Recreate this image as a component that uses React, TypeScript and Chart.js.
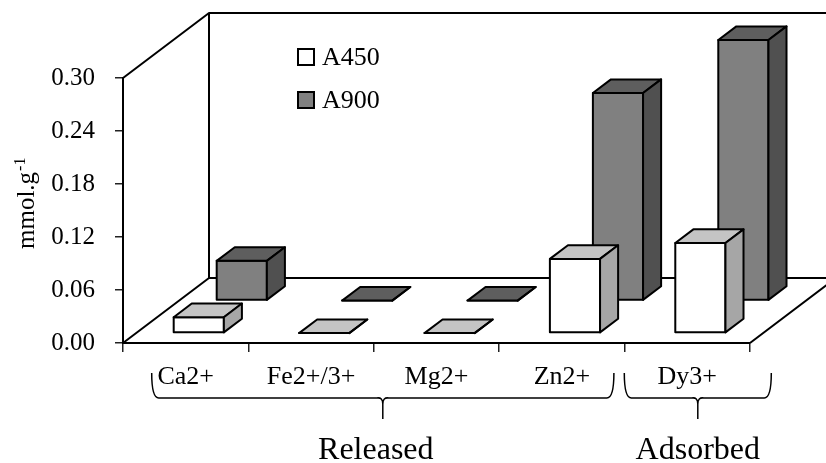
import { useEffect, useRef } from "react";
import { Chart, registerables } from "chart.js";

Chart.register(...registerables);

// ---- data ----
const categories = ["Ca2+", "Fe2+/3+", "Mg2+", "Zn2+", "Dy3+"];
const seriesLabels = ["A450", "A900"];
const a450 = [0.018, 0, 0, 0.084, 0.102];
const a900 = [0.045, 0, 0, 0.235, 0.295];
const yTicks = [0, 0.06, 0.12, 0.18, 0.24, 0.3];
const groupLabels = ["Released", "Adsorbed"];
const groupFirst = [0, 4];
const groupLast = [3, 4];
const yTitleMain = "mmol.g";
const yTitleSup = "-1";

// ---- style ----
const FONT = "'Liberation Serif', 'Times New Roman', serif";
const DEPTH = { x: 86, y: 65 }; // oblique depth of the floor
const ROW_POS = [0.152, 0.652]; // depth position of each series row
const BAR_DEPTH = 0.21; // depth of each bar as a fraction of the floor depth
const FACES = [
  { front: "#ffffff", top: "#c4c4c4", side: "#a6a6a6" },
  { front: "#808080", top: "#5e5e5e", side: "#505050" },
];

const floorPlugin = {
  id: "floor3d",
  beforeDatasetsDraw(chart: any) {
    const { ctx, chartArea: a } = chart;
    const W = chart.width;
    ctx.save();
    ctx.strokeStyle = "#000";
    ctx.lineWidth = 2;
    ctx.lineJoin = "round";
    ctx.beginPath();
    // left wall top edge
    ctx.moveTo(a.left, a.top);
    ctx.lineTo(a.left + DEPTH.x, a.top - DEPTH.y);
    // back wall top
    ctx.lineTo(W + 20, a.top - DEPTH.y);
    // back wall left edge
    ctx.moveTo(a.left + DEPTH.x, a.top - DEPTH.y);
    ctx.lineTo(a.left + DEPTH.x, a.bottom - DEPTH.y);
    // floor
    ctx.moveTo(a.left, a.bottom);
    ctx.lineTo(a.left + DEPTH.x, a.bottom - DEPTH.y);
    ctx.lineTo(a.right + DEPTH.x, a.bottom - DEPTH.y);
    ctx.lineTo(a.right, a.bottom);
    ctx.stroke();
    ctx.restore();
  },
};

function poly(ctx: CanvasRenderingContext2D, pts: number[][], fill: string) {
  ctx.beginPath();
  ctx.moveTo(pts[0][0], pts[0][1]);
  for (let i = 1; i < pts.length; i++) ctx.lineTo(pts[i][0], pts[i][1]);
  ctx.closePath();
  ctx.fillStyle = fill;
  ctx.fill();
  ctx.stroke();
}

const bars3dPlugin = {
  id: "bars3d",
  afterDatasetsDraw(chart: any) {
    const { ctx } = chart;
    ctx.save();
    ctx.strokeStyle = "#000";
    ctx.lineWidth = 2;
    ctx.lineJoin = "round";
    const dx = DEPTH.x * BAR_DEPTH;
    const dy = DEPTH.y * BAR_DEPTH;
    // back row first so the front row covers it
    for (let d = chart.data.datasets.length - 1; d >= 0; d--) {
      const meta = chart.getDatasetMeta(d);
      const ox = DEPTH.x * ROW_POS[d];
      const oy = DEPTH.y * ROW_POS[d];
      const face = FACES[d];
      meta.data.forEach((el: any) => {
        const { x, y, base, width } = el.getProps(["x", "y", "base", "width"], true);
        const l = x - width / 2 + ox;
        const r = l + width;
        const t = y - oy;
        const b = base - oy;
        poly(ctx, [[l, t], [r, t], [r, b], [l, b]], face.front);
        poly(ctx, [[l, t], [l + dx, t - dy], [r + dx, t - dy], [r, t]], face.top);
        poly(ctx, [[r, t], [r + dx, t - dy], [r + dx, b - dy], [r, b]], face.side);
      });
    }
    ctx.restore();
  },
};

function brace(ctx: CanvasRenderingContext2D, L: number, R: number, top: number, mid: number, tip: number) {
  const C = (L + R) / 2;
  ctx.beginPath();
  ctx.moveTo(L, top);
  ctx.quadraticCurveTo(L, mid, L + 7, mid);
  ctx.lineTo(C - 6, mid);
  ctx.quadraticCurveTo(C, mid - 1, C, mid + 6);
  ctx.lineTo(C, tip);
  ctx.moveTo(C, mid + 6);
  ctx.quadraticCurveTo(C, mid - 1, C + 6, mid);
  ctx.lineTo(R - 7, mid);
  ctx.quadraticCurveTo(R, mid, R, top);
  ctx.stroke();
}

const annotationsPlugin = {
  id: "annotations",
  afterDraw(chart: any) {
    const { ctx, scales } = chart;
    const xs = scales.x;
    ctx.save();
    ctx.fillStyle = "#000";
    ctx.strokeStyle = "#000";

    // legend
    chart.data.datasets.forEach((ds: any, i: number) => {
      const bx = 298;
      const by = 49 + i * 43;
      ctx.lineWidth = 2;
      ctx.fillStyle = FACES[i].front;
      ctx.fillRect(bx, by, 16, 16);
      ctx.strokeRect(bx, by, 16, 16);
      ctx.fillStyle = "#000";
      ctx.font = `26px ${FONT}`;
      ctx.textAlign = "left";
      ctx.textBaseline = "middle";
      ctx.fillText(ds.label, bx + 24, by + 9);
    });

    // y-axis title with superscript
    ctx.save();
    ctx.translate(34, 249);
    ctx.rotate(-Math.PI / 2);
    ctx.textAlign = "left";
    ctx.textBaseline = "alphabetic";
    ctx.font = `25px ${FONT}`;
    ctx.fillText(yTitleMain, 0, 0);
    const w = ctx.measureText(yTitleMain).width;
    ctx.font = `16px ${FONT}`;
    ctx.fillText(yTitleSup, w + 1, -9);
    ctx.restore();

    // group braces
    ctx.lineWidth = 1.5;
    const bounds = [
      [xs.getPixelForValue(groupFirst[0]) - 34, xs.getPixelForValue(groupLast[0]) + 52],
      [xs.getPixelForValue(groupFirst[1]) - 63, xs.getPixelForValue(groupLast[1]) + 84],
    ];
    groupLabels.forEach((label, i) => {
      const [L, R] = bounds[i];
      brace(ctx, L, R, 373, 398, 419);
      ctx.font = `32px ${FONT}`;
      ctx.textAlign = "center";
      ctx.textBaseline = "alphabetic";
      ctx.fillText(label, (L + R) / 2 - (i === 0 ? 7 : 0), 459);
    });
    ctx.restore();
  },
};

export default function App() {
  const ref = useRef<HTMLCanvasElement>(null);

  useEffect(() => {
    const canvas = ref.current;
    if (!canvas) return;
    Chart.defaults.font.family = FONT;
    Chart.defaults.color = "#000";
    const chart = new Chart(canvas, {
      type: "bar",
      data: {
        labels: categories,
        datasets: [
          { label: seriesLabels[0], data: a450, backgroundColor: "transparent", borderWidth: 0 },
          { label: seriesLabels[1], data: a900, backgroundColor: "transparent", borderWidth: 0 },
        ],
      },
      options: {
        responsive: false,
        animation: false,
        devicePixelRatio: 1,
        events: [],
        layout: { padding: { left: 0, top: 78, right: 76, bottom: 0 } },
        datasets: { bar: { grouped: false, barPercentage: 0.4, categoryPercentage: 1 } },
        plugins: { legend: { display: false }, tooltip: { enabled: false }, title: { display: false } },
        scales: {
          x: {
            offset: true,
            grid: { drawOnChartArea: false, offset: true, tickLength: 9, color: "#222", lineWidth: 1.5 },
            border: { display: true, color: "#000", width: 2 },
            ticks: { font: { size: 26 }, color: "#000", padding: 10, maxRotation: 0, autoSkip: false },
            afterFit: (s: any) => { s.height = 120; },
          },
          y: {
            min: 0,
            max: 0.3,
            afterBuildTicks: (s: any) => { s.ticks = yTicks.map((v) => ({ value: v })); },
            grid: { drawOnChartArea: false, tickLength: 8, color: "#222", lineWidth: 1.5 },
            border: { display: true, color: "#000", width: 2 },
            ticks: { font: { size: 25 }, color: "#000", padding: 20, callback: (v: any) => Number(v).toFixed(2) },
            afterFit: (s: any) => { s.width = 123; },
          },
        },
      },
      plugins: [floorPlugin, bars3dPlugin, annotationsPlugin],
    });
    return () => chart.destroy();
  }, []);

  return (
    <div style={{ position: "fixed", left: 0, top: 0, width: 826, height: 463, background: "#fff" }}>
      <canvas ref={ref} width={826} height={463} style={{ display: "block" }} />
    </div>
  );
}
